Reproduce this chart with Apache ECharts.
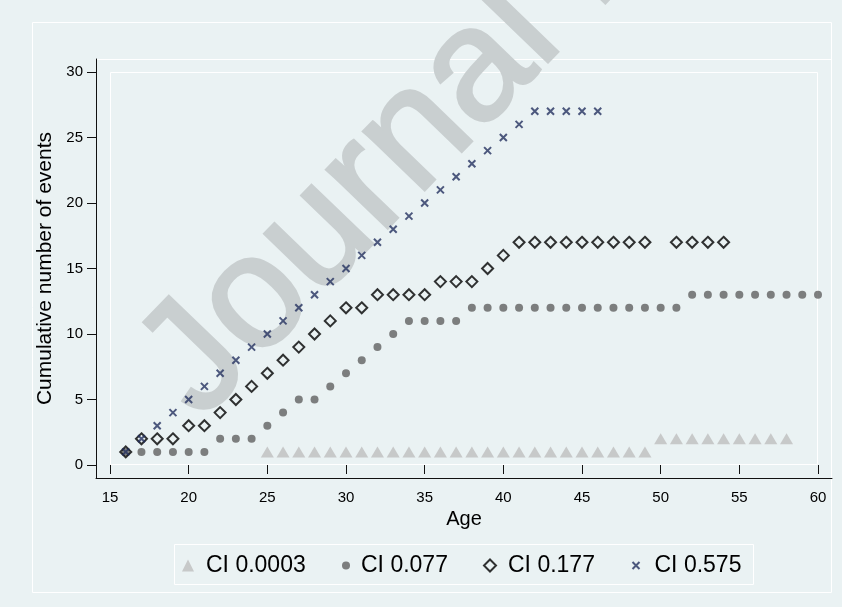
<!DOCTYPE html>
<html>
<head>
<meta charset="utf-8">
<script src="https://cdn.jsdelivr.net/npm/echarts@6/dist/echarts.min.js"></script>
<style>
  html, body { margin: 0; padding: 0; background: #EAF2F3; }
  #chart { width: 842px; height: 607px; }
</style>
</head>
<body>
<div id="chart"></div>
<script>
// Cumulative number of events by age, one group per CI level
const agesCI0003   = [25, 26, 27, 28, 29, 30, 31, 32, 33, 34, 35, 36, 37, 38, 39, 40, 41, 42, 43, 44, 45, 46, 47, 48, 49,
                      50, 51, 52, 53, 54, 55, 56, 57, 58];
const eventsCI0003 = [1, 1, 1, 1, 1, 1, 1, 1, 1, 1, 1, 1, 1, 1, 1, 1, 1, 1, 1, 1, 1, 1, 1, 1, 1,
                      2, 2, 2, 2, 2, 2, 2, 2, 2];

const agesCI077   = [16, 17, 18, 19, 20, 21, 22, 23, 24, 25, 26, 27, 28, 29, 30, 31, 32, 33, 34, 35, 36, 37, 38,
                     39, 40, 41, 42, 43, 44, 45, 46, 47, 48, 49, 50, 51, 52, 53, 54, 55, 56, 57, 58, 59, 60];
const eventsCI077 = [1, 1, 1, 1, 1, 1, 2, 2, 2, 3, 4, 5, 5, 6, 7, 8, 9, 10, 11, 11, 11, 11, 12,
                     12, 12, 12, 12, 12, 12, 12, 12, 12, 12, 12, 12, 12, 13, 13, 13, 13, 13, 13, 13, 13, 13];

const agesCI177   = [16, 17, 18, 19, 20, 21, 22, 23, 24, 25, 26, 27, 28, 29, 30, 31, 32, 33, 34, 35, 36, 37, 38,
                     39, 40, 41, 42, 43, 44, 45, 46, 47, 48, 49, 51, 52, 53, 54];
const eventsCI177 = [1, 2, 2, 2, 3, 3, 4, 5, 6, 7, 8, 9, 10, 11, 12, 12, 13, 13, 13, 13, 14, 14, 14,
                     15, 16, 17, 17, 17, 17, 17, 17, 17, 17, 17, 17, 17, 17, 17];

const agesCI575   = [16, 17, 18, 19, 20, 21, 22, 23, 24, 25, 26, 27, 28, 29, 30, 31, 32, 33, 34, 35, 36, 37, 38,
                     39, 40, 41, 42, 43, 44, 45, 46];
const eventsCI575 = [1, 2, 3, 4, 5, 6, 7, 8, 9, 10, 11, 12, 13, 14, 15, 16, 17, 18, 19, 20, 21, 22, 23,
                     24, 25, 26, 27, 27, 27, 27, 27];

const groupNames = ['CI 0.0003', 'CI 0.077', 'CI 0.177', 'CI 0.575'];

// Axis scales and titles
const xRange = { min: 15, max: 60, step: 5 };
const yRange = { min: 0, max: 30, step: 5 };
const xTitle = 'Age';
const yTitle = 'Cumulative number of events';
const stampText = 'Journal Pre-proof';

// ---------------------------------------------------------------------------
const FONT = '"Liberation Sans", Arial, Helvetica, sans-serif';
const BG = '#EAF2F3';
const NAVY = '#24315F';
const DOT = '#606060';
const TRI = '#BEBEBE';
const STAMP = '#C9CFD0';

const pairs = (xs, ys) => xs.map((x, i) => [x, ys[i]]);
const crossPath = 'path://M0,0L10,10M10,0L0,10';

const chart = echarts.init(document.getElementById('chart'), null, { renderer: 'canvas' });

// one single-entry legend per group so each key symbol keeps its own size
function legendEntry(name, left, size, gapLeft, itemStyle) {
  return {
    data: [name],
    orient: 'horizontal',
    left: left,
    top: 554,
    padding: 0,
    itemGap: 0,
    itemWidth: size,
    itemHeight: size,
    symbolKeepAspect: true,
    selectedMode: false,
    itemStyle: itemStyle,
    textStyle: { fontSize: 23, color: '#000', fontFamily: FONT, padding: [0, 0, 0, gapLeft] }
  };
}

const option = {
  backgroundColor: BG,
  animation: false,
  textStyle: { fontFamily: FONT },
  grid: [
    // data area
    { left: 110, right: 24, top: 72, bottom: 142, outerBoundsMode: 'none', containLabel: false },
    // frame that carries the axis lines
    { left: 96, right: 10, top: 59, bottom: 129, outerBoundsMode: 'none', containLabel: false }
  ],
  xAxis: [
    {
      type: 'value', gridIndex: 0, min: xRange.min, max: xRange.max, interval: xRange.step,
      offset: 13, z: 5,
      name: xTitle, nameLocation: 'middle', nameGap: 30,
      nameTextStyle: { fontSize: 20, color: '#000', fontFamily: FONT },
      axisLine: { show: false },
      axisTick: { show: true, inside: false, length: 9, lineStyle: { color: '#111', width: 1 } },
      axisLabel: { show: true, margin: 12, fontSize: 15, color: '#000', fontFamily: FONT },
      splitLine: { show: false }
    },
    {
      type: 'value', gridIndex: 1, min: 0, max: 1, z: 5,
      axisLine: { show: true, onZero: false, lineStyle: { color: '#111', width: 1 } },
      axisTick: { show: false }, axisLabel: { show: false }, splitLine: { show: false }
    }
  ],
  yAxis: [
    {
      type: 'value', gridIndex: 0, min: yRange.min, max: yRange.max, interval: yRange.step,
      offset: 14, z: 5,
      name: yTitle, nameLocation: 'middle', nameGap: 40, nameRotate: 90,
      nameTextStyle: { fontSize: 21, color: '#000', fontFamily: FONT },
      axisLine: { show: false },
      axisTick: { show: true, inside: false, length: 9, lineStyle: { color: '#111', width: 1 } },
      axisLabel: { show: true, margin: 13, fontSize: 15, color: '#000', fontFamily: FONT },
      splitLine: { show: false }
    },
    {
      type: 'value', gridIndex: 1, min: 0, max: 1, z: 5,
      axisLine: { show: true, onZero: false, lineStyle: { color: '#111', width: 1 } },
      axisTick: { show: false }, axisLabel: { show: false }, splitLine: { show: false }
    }
  ],
  legend: [
    legendEntry(groupNames[0], 182, 12, 7, { color: TRI, borderWidth: 0 }),
    legendEntry(groupNames[1], 342, 8, 6, { color: DOT, borderWidth: 0 }),
    legendEntry(groupNames[2], 483, 12, 7, { color: 'rgba(0,0,0,0)', borderColor: '#000', borderWidth: 2 }),
    legendEntry(groupNames[3], 630, 7, 10, { color: 'none', borderColor: NAVY, borderWidth: 2 })
  ],
  graphic: [
    // outer graph region outline
    { type: 'rect', z: 0, silent: true,
      shape: { x: 32.5, y: 22.5, width: 799, height: 570 },
      style: { fill: 'none', stroke: '#FFFFFF', lineWidth: 1 } },
    // plot region outline
    { type: 'rect', z: 0, silent: true,
      shape: { x: 96.5, y: 59.5, width: 735, height: 419 },
      style: { fill: 'none', stroke: '#FFFFFF', lineWidth: 1 } },
    // inner plot region outline
    { type: 'rect', z: 0, silent: true,
      shape: { x: 110.5, y: 72.5, width: 707, height: 392 },
      style: { fill: 'none', stroke: '#FFFFFF', lineWidth: 1 } },
    // legend box
    { type: 'rect', z: 0, silent: true,
      shape: { x: 174.5, y: 544.5, width: 579, height: 40 },
      style: { fill: 'none', stroke: '#FFFFFF', lineWidth: 1 } },
    // diagonal stamp across the page
    { type: 'text', z: 1, silent: true,
      x: 169, y: 391, rotation: 46 * Math.PI / 180,
      style: { text: stampText, fontSize: 160, fontFamily: FONT, fill: STAMP,
               stroke: STAMP, lineWidth: 3,
               align: 'left', verticalAlign: 'middle' } }
  ],
  series: [
    {
      name: groupNames[0], type: 'scatter', xAxisIndex: 0, yAxisIndex: 0, z: 3,
      data: pairs(agesCI0003, eventsCI0003),
      symbol: 'triangle', symbolSize: [13, 11],
      itemStyle: { color: TRI }, emphasis: { disabled: true }
    },
    {
      name: groupNames[1], type: 'scatter', xAxisIndex: 0, yAxisIndex: 0, z: 3,
      data: pairs(agesCI077, eventsCI077),
      symbol: 'circle', symbolSize: 8,
      itemStyle: { color: DOT }, emphasis: { disabled: true }
    },
    {
      name: groupNames[2], type: 'scatter', xAxisIndex: 0, yAxisIndex: 0, z: 3,
      data: pairs(agesCI177, eventsCI177),
      symbol: 'diamond', symbolSize: 11,
      itemStyle: { color: 'rgba(0,0,0,0)', borderColor: '#000', borderWidth: 2 },
      emphasis: { disabled: true }
    },
    {
      name: groupNames[3], type: 'scatter', xAxisIndex: 0, yAxisIndex: 0, z: 3,
      data: pairs(agesCI575, eventsCI575),
      symbol: crossPath, symbolSize: 7,
      itemStyle: { color: 'none', borderColor: NAVY, borderWidth: 2 },
      emphasis: { disabled: true }
    }
  ]
};

chart.setOption(option);
</script>
</body>
</html>
